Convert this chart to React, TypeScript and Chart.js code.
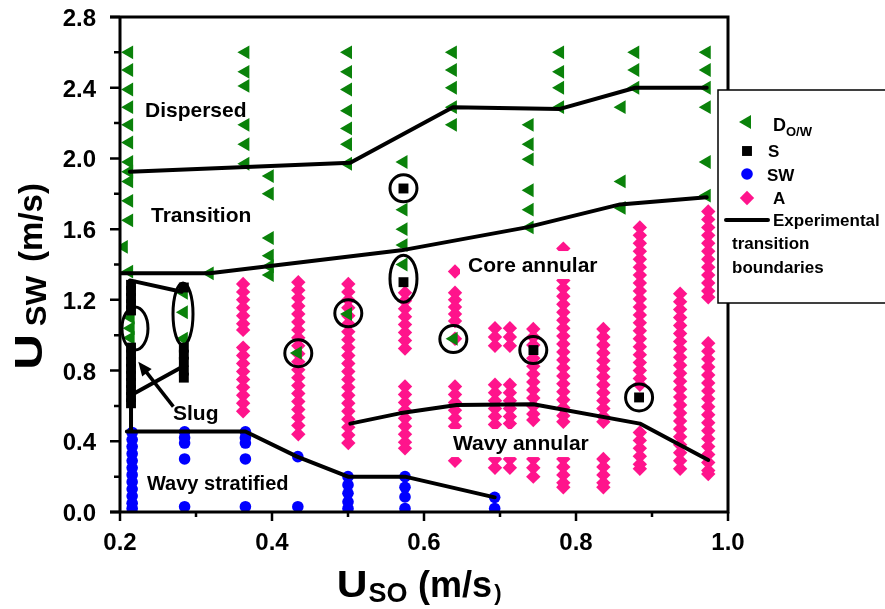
import { useEffect, useRef } from 'react';
import { Chart, registerables } from 'chart.js';
import { drawPoint } from 'chart.js/helpers';

Chart.register(...registerables);

// ---------------- axes ----------------
const X_MIN = 0.2;
const X_MAX = 1.0;
const Y_MIN = 0;
const Y_MAX = 2.8;
const X_MAJOR = [0.2, 0.4, 0.6, 0.8, 1.0];
const X_MINOR = [0.3, 0.5, 0.7, 0.9];
const Y_MAJOR = [0.0, 0.4, 0.8, 1.2, 1.6, 2.0, 2.4, 2.8];
const Y_MINOR = [0.2, 0.6, 1.0, 1.4, 1.8, 2.2, 2.6];

// ---------------- D O/W (green triangles) ----------------
const dowX = [0.212, 0.205, 0.214, 0.284, 0.318, 0.365, 0.397, 0.434, 0.5, 0.5, 0.573, 0.638, 0.639, 0.739, 0.779, 0.86, 0.878, 0.972];
const dowY = [
  [2.6, 2.5, 2.39, 2.29, 2.19, 2.09, 1.98, 1.925, 1.87, 1.76, 1.65, 1.36],
  [1.5],
  [1.1, 1.04, 0.985],
  [1.24, 1.13, 0.98],
  [1.35],
  [2.6, 2.49, 2.41, 2.19, 2.08, 1.97],
  [1.9, 1.8, 1.55, 1.45, 1.39, 1.34],
  [0.9],
  [2.6, 2.49, 2.39, 2.27, 2.17, 2.08, 1.97],
  [1.12],
  [1.98, 1.71, 1.6, 1.51, 1.4],
  [2.6, 2.5, 2.4, 2.29, 2.19],
  [0.98],
  [2.19, 2.08, 1.995, 1.82, 1.71, 1.61],
  [2.6, 2.49, 2.4, 2.29],
  [2.29, 1.87, 1.72],
  [2.6, 2.5, 2.4],
  [2.6, 2.5, 2.4, 2.29, 1.98, 1.79],
];

// ---------------- S (black squares) ----------------
const sX = [0.2145, 0.2145, 0.284, 0.284, 0.573, 0.573, 0.744, 0.883];
const sY = [
  [1.285, 1.25, 1.21, 1.175, 1.14],
  [0.93, 0.89, 0.85, 0.81, 0.77, 0.73, 0.69, 0.65, 0.615],
  [1.27],
  [0.93, 0.89, 0.85, 0.8, 0.76],
  [1.83],
  [1.3],
  [0.916],
  [0.648],
];

// ---------------- SW (blue circles) ----------------
const swX = [0.216, 0.285, 0.365, 0.434, 0.5, 0.575, 0.693];
const swY = [
  [0.45, 0.41, 0.37, 0.33, 0.29, 0.25, 0.21, 0.17, 0.13, 0.09, 0.05, 0.02],
  [0.454, 0.42, 0.39, 0.3, 0.03],
  [0.454, 0.42, 0.39, 0.3, 0.03],
  [0.313, 0.03],
  [0.2, 0.153, 0.106, 0.058, 0.02],
  [0.2, 0.14, 0.085, 0.02],
  [0.083, 0.02],
];

// ---------------- A (pink diamonds) ----------------
const aX = [0.362, 0.4346, 0.5004, 0.575, 0.6408, 0.6934, 0.713, 0.7438, 0.7833, 0.836, 0.884, 0.937, 0.974];
const aY = [
  [1.29, 1.245, 1.2, 1.155, 1.11, 1.065, 1.03, 0.93, 0.885, 0.84, 0.795, 0.75, 0.705, 0.66, 0.615, 0.57],
  [1.3, 1.255, 1.21, 1.165, 1.12, 1.075, 1.03, 0.985, 0.94, 0.895, 0.85, 0.805, 0.76, 0.715, 0.67, 0.625, 0.58, 0.535, 0.49, 0.44],
  [1.29, 1.245, 1.2, 1.155, 1.11, 1.065, 1.02, 0.975, 0.93, 0.885, 0.84, 0.795, 0.75, 0.705, 0.66, 0.615, 0.57, 0.525, 0.48, 0.435, 0.39],
  [1.24, 1.195, 1.15, 1.105, 1.06, 1.015, 0.97, 0.925, 0.71, 0.665, 0.62, 0.575, 0.53, 0.485, 0.44, 0.395, 0.36],
  [1.36, 1.24, 1.2, 1.16, 1.12, 1.08, 0.98, 0.71, 0.665, 0.62, 0.575, 0.53, 0.485, 0.29],
  [1.04, 0.99, 0.94, 0.72, 0.675, 0.63, 0.585, 0.54, 0.495, 0.3, 0.25],
  [1.04, 0.99, 0.94, 0.72, 0.675, 0.63, 0.585, 0.54, 0.5, 0.3, 0.25],
  [1.035, 0.99, 0.945, 0.87, 0.825, 0.78, 0.735, 0.69, 0.645, 0.6, 0.555, 0.52, 0.3, 0.25, 0.2],
  [1.49, 1.445, 1.4, 1.355, 1.31, 1.265, 1.22, 1.175, 1.13, 1.085, 1.04, 0.995, 0.95, 0.905, 0.86, 0.815, 0.77, 0.725, 0.68, 0.635, 0.59, 0.545, 0.51, 0.3, 0.255, 0.21, 0.165, 0.14],
  [1.035, 0.99, 0.945, 0.9, 0.855, 0.81, 0.765, 0.72, 0.675, 0.63, 0.585, 0.54, 0.51, 0.3, 0.255, 0.21, 0.165, 0.14],
  [1.61, 1.565, 1.52, 1.475, 1.43, 1.385, 1.34, 1.295, 1.25, 1.205, 1.16, 1.115, 1.07, 1.025, 0.98, 0.935, 0.89, 0.845, 0.8, 0.755, 0.72, 0.45, 0.405, 0.36, 0.315, 0.27, 0.245],
  [1.235, 1.19, 1.145, 1.1, 1.055, 1.01, 0.965, 0.92, 0.875, 0.83, 0.785, 0.74, 0.695, 0.65, 0.605, 0.56, 0.515, 0.47, 0.425, 0.38, 0.335, 0.29, 0.245],
  [1.7, 1.655, 1.61, 1.565, 1.52, 1.475, 1.43, 1.385, 1.34, 1.295, 1.25, 1.215, 0.955, 0.91, 0.865, 0.82, 0.775, 0.73, 0.685, 0.64, 0.595, 0.55, 0.505, 0.46, 0.415, 0.37, 0.325, 0.28, 0.235, 0.215],
];

// ---------------- experimental transition boundaries ----------------
const boundaryX = [
  [0.213, 0.503, 0.638, 0.779, 0.878, 0.972],
  [0.2, 0.318, 0.57, 0.735, 0.858, 0.972],
  [0.213, 0.281],
  [0.2197, 0.2816],
  [0.2145, 0.2145],
  [0.209, 0.365, 0.433, 0.5, 0.575, 0.693],
  [0.503, 0.568, 0.643, 0.744, 0.884, 0.974],
];
const boundaryY = [
  [1.925, 1.976, 2.29, 2.28, 2.4, 2.4],
  [1.35, 1.35, 1.48, 1.61, 1.74, 1.78],
  [1.31, 1.246],
  [0.673, 0.82],
  [0.59, 0.46],
  [0.455, 0.455, 0.313, 0.2, 0.2, 0.083],
  [0.5, 0.558, 0.605, 0.61, 0.5, 0.294],
];

// ---------------- annotations ----------------
const circleX = [0.573, 0.4346, 0.5004, 0.6386, 0.7438, 0.883];
const circleY = [1.831, 0.898, 1.124, 0.978, 0.916, 0.648];
const ellipseX = [0.2197, 0.2829, 0.573];
const ellipseY = [1.038, 1.12, 1.32];
const regionLabels = ['Dispersed', 'Transition', 'Core annular', 'Slug', 'Wavy annular', 'Wavy stratified'];
const regionLabelX = [0.2329, 0.2408, 0.6579, 0.2697, 0.6382, 0.2355];
const regionLabelY = [2.274, 1.68, 1.397, 0.56, 0.39, 0.164];
const regionLabelBg = [false, false, true, false, true, true];
const arrowFrom = [0.2702, 0.596];
const arrowTo = [0.2241, 0.85];

// ---------------- styles ----------------
const GREEN = '#0a820a';
const PINK = '#ff148c';
const BLUE = '#0000ff';
const FONT = '"Liberation Sans", Arial, sans-serif';
const R_TRI = 8;
const R_SQ = 7;
const R_CIR = 5.8;
const R_DIA = 7.2;

const cols = (xs: number[], ys: number[][]) => xs.flatMap((x, i) => ys[i].map((y) => ({ x, y })));

const ELLIPSE_R = [
  [13, 21.5],
  [10, 31],
  [13.5, 23.5],
];

const overlay = {
  id: 'overlay',
  afterDatasetsDraw(chart: any) {
    const { ctx, chartArea: a, scales } = chart;
    const px = (v: number) => scales.x.getPixelForValue(v);
    const py = (v: number) => scales.y.getPixelForValue(v);
    ctx.save();
    ctx.strokeStyle = '#000';
    ctx.fillStyle = '#000';

    // annotation circles
    ctx.lineWidth = 3;
    circleX.forEach((cx, i) => {
      ctx.beginPath();
      ctx.arc(px(cx), py(circleY[i]), 13.5, 0, Math.PI * 2);
      ctx.stroke();
    });
    ellipseX.forEach((ex, i) => {
      ctx.beginPath();
      ctx.ellipse(px(ex), py(ellipseY[i]), ELLIPSE_R[i][0], ELLIPSE_R[i][1], 0, 0, Math.PI * 2);
      ctx.stroke();
    });

    // region labels
    ctx.textBaseline = 'middle';
    ctx.textAlign = 'left';
    regionLabels.forEach((t, i) => {
      ctx.font = `bold ${t === 'Wavy stratified' ? 20 : 21}px ${FONT}`;
      const x = px(regionLabelX[i]);
      const y = py(regionLabelY[i]);
      const w = ctx.measureText(t).width;
      if (regionLabelBg[i]) {
        ctx.fillStyle = '#fff';
        ctx.fillRect(x - 8, y - 14, w + 16, 28);
      }
      ctx.fillStyle = '#000';
      ctx.fillText(t, x, y + 1);
    });

    // arrow
    {
      const x1 = px(arrowFrom[0]), y1 = py(arrowFrom[1]);
      const x2 = px(arrowTo[0]), y2 = py(arrowTo[1]);
      const ang = Math.atan2(y2 - y1, x2 - x1);
      const hl = 14, hw = 6;
      ctx.lineWidth = 3.5;
      ctx.beginPath();
      ctx.moveTo(x1, y1);
      ctx.lineTo(x2 - Math.cos(ang) * hl * 0.8, y2 - Math.sin(ang) * hl * 0.8);
      ctx.stroke();
      ctx.beginPath();
      ctx.moveTo(x2, y2);
      ctx.lineTo(x2 - Math.cos(ang) * hl - Math.sin(ang) * hw, y2 - Math.sin(ang) * hl + Math.cos(ang) * hw);
      ctx.lineTo(x2 - Math.cos(ang) * hl + Math.sin(ang) * hw, y2 - Math.sin(ang) * hl - Math.cos(ang) * hw);
      ctx.closePath();
      ctx.fill();
    }

    // axes & frame
    ctx.lineWidth = 3;
    ctx.lineCap = 'butt';
    ctx.beginPath();
    ctx.moveTo(a.left, a.top);
    ctx.lineTo(a.left, a.bottom);
    ctx.moveTo(a.left - 10, a.bottom);
    ctx.lineTo(a.right + 1.5, a.bottom);
    ctx.moveTo(a.left - 10, a.top);
    ctx.lineTo(a.right + 1.5, a.top);
    ctx.moveTo(a.right, a.top);
    ctx.lineTo(a.right, a.bottom);
    ctx.stroke();
    ctx.lineWidth = 2.5;
    ctx.beginPath();
    Y_MAJOR.forEach((v) => {
      ctx.moveTo(a.left - 10, py(v));
      ctx.lineTo(a.left, py(v));
    });
    Y_MINOR.forEach((v) => {
      ctx.moveTo(a.left - 6, py(v));
      ctx.lineTo(a.left, py(v));
    });
    X_MAJOR.forEach((v) => {
      ctx.moveTo(px(v), a.bottom);
      ctx.lineTo(px(v), a.bottom + 9);
    });
    X_MINOR.forEach((v) => {
      ctx.moveTo(px(v), a.bottom);
      ctx.lineTo(px(v), a.bottom + 5);
    });
    ctx.stroke();

    // tick labels
    ctx.font = `bold 24px ${FONT}`;
    ctx.textBaseline = 'alphabetic';
    ctx.textAlign = 'right';
    Y_MAJOR.forEach((v) => ctx.fillText(v.toFixed(1), a.left - 24, py(v) + 9));
    ctx.textAlign = 'center';
    X_MAJOR.forEach((v) => ctx.fillText(v.toFixed(1), px(v), a.bottom + 38));

    // x title: [text, font size, dx from centre, dy from baseline, horizontal stretch]
    const cx = (a.left + a.right) / 2;
    const xb = a.bottom + 85;
    const xPieces: [string, number, number, number, number][] = [
      ['U', 37, -72, 0, 1.15],
      ['SO', 27, -36, 5, 1.0],
      ['(m/s', 36, 31, 0, 1.0],
      [')', 22, 74, 3, 1.0],
    ];
    xPieces.forEach(([t, s, dx, dy, sx]) => {
      ctx.save();
      ctx.font = `bold ${s}px ${FONT}`;
      ctx.translate(cx + dx, xb + dy);
      ctx.scale(sx, 1);
      ctx.fillText(t, 0, 0);
      ctx.restore();
    });

    // y title: [text, font size, dy from centre, baseline x, stretch along text]
    const cy = (a.top + a.bottom) / 2;
    const yPieces: [string, number, number, number, number][] = [
      ['U', 38, 87.5, 42, 1.3],
      ['SW', 30, 36.5, 46, 1.04],
      ['(m/s)', 33, -42, 42, 1.0],
    ];
    yPieces.forEach(([t, s, dy, bx, sx]) => {
      ctx.save();
      ctx.font = `bold ${s}px ${FONT}`;
      ctx.translate(bx, cy + dy);
      ctx.rotate(-Math.PI / 2);
      ctx.scale(sx, 1);
      ctx.textAlign = 'center';
      ctx.fillText(t, 0, 0);
      ctx.restore();
    });

    // legend
    const lx = a.right - 10;
    const ly = 90;
    ctx.fillStyle = '#fff';
    ctx.fillRect(lx, ly, 200, 213);
    ctx.lineWidth = 1.5;
    ctx.strokeStyle = '#000';
    ctx.strokeRect(lx, ly, 200, 213);
    const mk = (style: string, color: string, r: number, rot: number, x: number, y: number) => {
      ctx.fillStyle = color;
      drawPoint(ctx, { pointStyle: style, radius: r, rotation: rot, borderWidth: 0 } as any, x, y);
    };
    mk('triangle', GREEN, R_TRI, 270, lx + 29, ly + 32);
    mk('rect', '#000', R_SQ, 0, lx + 29, ly + 61);
    mk('circle', BLUE, R_CIR, 0, lx + 29, ly + 84);
    mk('rectRot', PINK, R_DIA, 0, lx + 29, ly + 108);
    ctx.fillStyle = '#000';
    ctx.textAlign = 'left';
    ctx.textBaseline = 'alphabetic';
    ctx.font = `bold 18px ${FONT}`;
    ctx.fillText('D', lx + 55, ly + 41);
    ctx.font = `bold 13px ${FONT}`;
    ctx.fillText('O/W', lx + 68, ly + 46);
    ctx.font = `bold 17px ${FONT}`;
    ctx.fillText('S', lx + 50, ly + 67);
    ctx.fillText('SW', lx + 49, ly + 91);
    ctx.fillText('A', lx + 55, ly + 114);
    ctx.lineWidth = 4;
    ctx.lineCap = 'round';
    ctx.beginPath();
    ctx.moveTo(lx + 8, ly + 130);
    ctx.lineTo(lx + 50, ly + 130);
    ctx.stroke();
    ctx.fillText('Experimental', lx + 55, ly + 136);
    ctx.fillText('transition', lx + 14, ly + 159);
    ctx.fillText('boundaries', lx + 14, ly + 183);

    ctx.restore();
  },
};

export default function App() {
  const ref = useRef<HTMLCanvasElement | null>(null);
  useEffect(() => {
    if (!ref.current) return;
    const lineSets = boundaryX.map((xs, i) => ({
      type: 'scatter' as const,
      label: 'Experimental transition boundaries',
      data: xs.map((x, j) => ({ x, y: boundaryY[i][j] })),
      showLine: true,
      borderColor: '#000',
      borderWidth: 4,
      pointRadius: 0,
      fill: false,
      borderCapStyle: 'round',
      borderJoinStyle: 'round',
    }));
    const chart = new Chart(ref.current, {
      type: 'scatter',
      data: {
        datasets: [
          ...lineSets,
          {
            label: 'S',
            data: cols(sX, sY),
            pointStyle: 'rect',
            pointRadius: R_SQ,
            backgroundColor: '#000',
            borderWidth: 0,
          },
          {
            label: 'D O/W',
            data: cols(dowX, dowY),
            pointStyle: 'triangle',
            pointRotation: 270,
            pointRadius: R_TRI,
            backgroundColor: GREEN,
            borderWidth: 0,
          },
          {
            label: 'SW',
            data: cols(swX, swY),
            pointStyle: 'circle',
            pointRadius: R_CIR,
            backgroundColor: BLUE,
            borderWidth: 0,
          },
          {
            label: 'A',
            data: cols(aX, aY),
            pointStyle: 'rectRot',
            pointRadius: R_DIA,
            backgroundColor: PINK,
            borderWidth: 0,
          },
        ] as any,
      },
      options: {
        animation: false,
        responsive: false,
        devicePixelRatio: 1,
        layout: { padding: { left: 120, top: 17, right: 157, bottom: 97 } },
        plugins: { legend: { display: false }, tooltip: { enabled: false } },
        scales: {
          x: { type: 'linear', min: X_MIN, max: X_MAX, display: false },
          y: { type: 'linear', min: Y_MIN, max: Y_MAX, display: false },
        },
      },
      plugins: [overlay],
    });
    return () => chart.destroy();
  }, []);
  return (
    <div style={{ position: 'absolute', left: 0, top: 0, width: 885, height: 609, background: '#fff' }}>
      <canvas ref={ref} width={885} height={609} />
    </div>
  );
}
